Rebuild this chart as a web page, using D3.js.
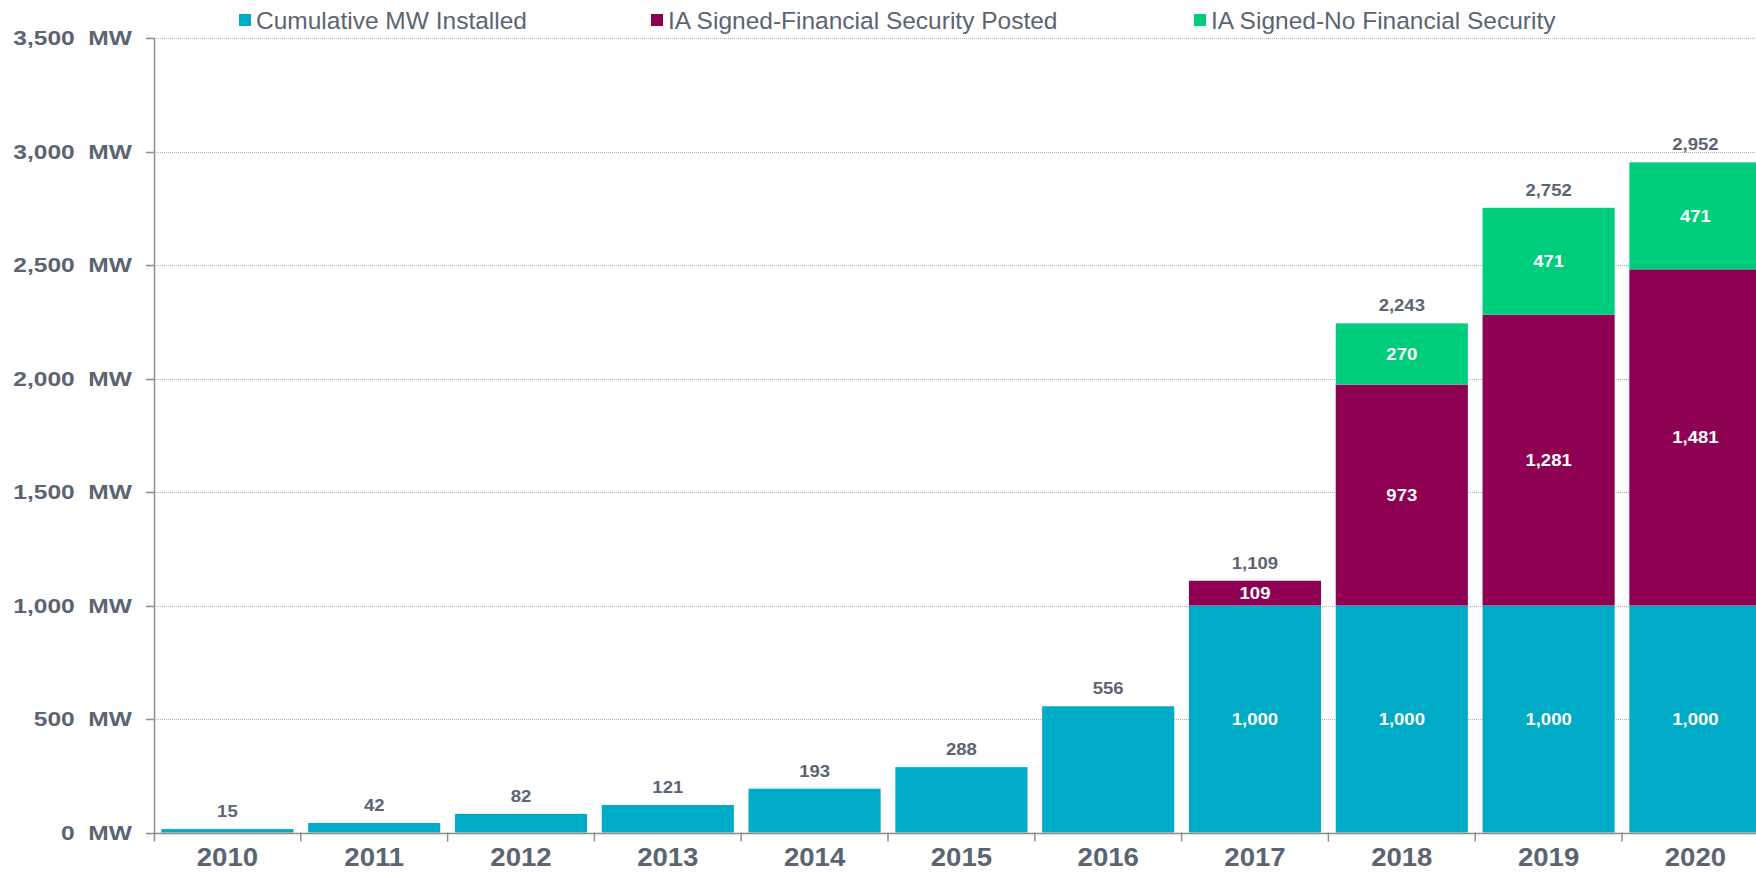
<!DOCTYPE html>
<html><head><meta charset="utf-8">
<script src="https://cdn.jsdelivr.net/npm/d3@7"></script>
<style>
html,body{margin:0;padding:0;background:#fff;overflow:hidden}
text{font-family:"Liberation Sans",Arial,sans-serif}
</style></head>
<body><svg id="c" width="1756" height="873"></svg>
<script>
const years = ["2010","2011","2012","2013","2014","2015","2016","2017","2018","2019","2020"];
const installed = [15,42,82,121,193,288,556,1000,1000,1000,1000];
const financial = [0,0,0,0,0,0,0,109,973,1281,1481];
const noFinancial = [0,0,0,0,0,0,0,0,270,471,471];
const seriesNames = ["Cumulative MW Installed","IA Signed-Financial Security Posted","IA Signed-No Financial Security"];
const seriesColors = ["#00abc8","#8e0152","#00cd7b"];
const yTicks = [0,500,1000,1500,2000,2500,3000,3500];

const svg = d3.select("#c");
const x0 = 154, step = 146.8;
const x = d3.scaleBand().domain(years).range([x0, x0 + step*years.length]).paddingInner(0.1).paddingOuter(0.05);
const y = d3.scaleLinear().domain([0,3500]).range([832.5,38]);
const txt = "#5b6572";
const fmt = d3.format(",");

// grid
svg.append("g").selectAll("line").data(yTicks.filter(d=>d>0)).join("line")
  .attr("x1", x0).attr("x2", 1756).attr("y1", d=>Math.round(y(d))+0.5).attr("y2", d=>Math.round(y(d))+0.5)
  .attr("stroke","#b0b0b0").attr("stroke-width",1).attr("stroke-dasharray","1,1");

// stacked data
const rows = years.map((yr,i)=>({year:yr, s0:installed[i], s1:financial[i], s2:noFinancial[i]}));
const stack = d3.stack().keys(["s0","s1","s2"])(rows);
stack.forEach((layer,k)=>{
  svg.append("g").selectAll("rect").data(layer.filter(d=>d[1]-d[0]>0)).join("rect")
    .attr("x", d=>x(d.data.year)).attr("width", x.bandwidth())
    .attr("y", d=>y(d[1])).attr("height", d=>y(d[0])-y(d[1]))
    .attr("fill", seriesColors[k]);
});

function stretched(sel, sx){
  sel.attr("transform", function(){
    const ax = +this.getAttribute("x");
    return `translate(${ax},0) scale(${sx},1) translate(${-ax},0)`;
  });
}

// inside labels (only for stacked bars)
stack.forEach((layer,k)=>{
  const t = svg.append("g").selectAll("text").data(layer.filter(d=>d[1]-d[0]>0 && (d.data.s1+d.data.s2)>0)).join("text")
    .attr("x", d=>x(d.data.year)+x.bandwidth()/2).attr("y", d=>y((d[0]+d[1])/2)+6)
    .attr("text-anchor","middle").attr("fill","#fff").attr("font-weight","bold").attr("font-size",17)
    .text(d=>fmt(d[1]-d[0]));
  stretched(t, 1.09);
});

// total labels
const tl = svg.append("g").selectAll("text").data(rows).join("text")
  .attr("x", d=>x(d.year)+x.bandwidth()/2).attr("y", d=>y(d.s0+d.s1+d.s2)-12)
  .attr("text-anchor","middle").attr("fill",txt).attr("font-weight","bold").attr("font-size",17)
  .text(d=>fmt(d.s0+d.s1+d.s2));
stretched(tl, 1.09);

// y axis
const yAxis = svg.append("g");
yAxis.append("line").attr("x1",x0+0.5).attr("x2",x0+0.5).attr("y1",y(3500)).attr("y2",y(0)+9).attr("stroke","#8c8c8c").attr("stroke-width",1.5);
yAxis.selectAll(".tk").data(yTicks).join("line").attr("class","tk")
  .attr("x1",x0-8).attr("x2",x0).attr("y1",d=>Math.round(y(d))+0.5).attr("y2",d=>Math.round(y(d))+0.5).attr("stroke","#8c8c8c").attr("stroke-width",1.5);
const yl = yAxis.selectAll("text").data(yTicks).join("text")
  .attr("x",132).attr("y",d=>y(d)+7.5).attr("text-anchor","end")
  .attr("fill",txt).attr("font-weight","bold").attr("font-size",21)
  .attr("xml:space","preserve").style("white-space","pre")
  .text(d=>fmt(d)+"  MW");
stretched(yl, 1.17);

// x axis
const xAxis = svg.append("g");
xAxis.append("line").attr("x1",x0).attr("x2",1756).attr("y1",Math.round(y(0))+0.5).attr("y2",Math.round(y(0))+0.5).attr("stroke","#8c8c8c").attr("stroke-width",1.5);
const bounds = years.map(d=>x(d)+x.bandwidth()/2+step/2);
xAxis.selectAll(".tk").data(bounds).join("line").attr("class","tk")
  .attr("x1",d=>d).attr("x2",d=>d).attr("y1",y(0)).attr("y2",y(0)+9).attr("stroke","#8c8c8c").attr("stroke-width",1.5);
const xl = xAxis.selectAll("text").data(years).join("text")
  .attr("x",d=>x(d)+x.bandwidth()/2).attr("y",866.5).attr("text-anchor","middle")
  .attr("fill",txt).attr("font-weight","bold").attr("font-size",26).text(d=>d);
stretched(xl, 1.06);

// legend
const legX = [239,651,1194];
const leg = svg.append("g");
seriesNames.forEach((n,i)=>{
  leg.append("rect").attr("x",legX[i]).attr("y",14).attr("width",12).attr("height",12).attr("fill",seriesColors[i]);
  leg.append("text").attr("x",legX[i]+17).attr("y",28.5).attr("fill",txt).attr("font-size",24.5).text(n);
});
</script></body></html>
